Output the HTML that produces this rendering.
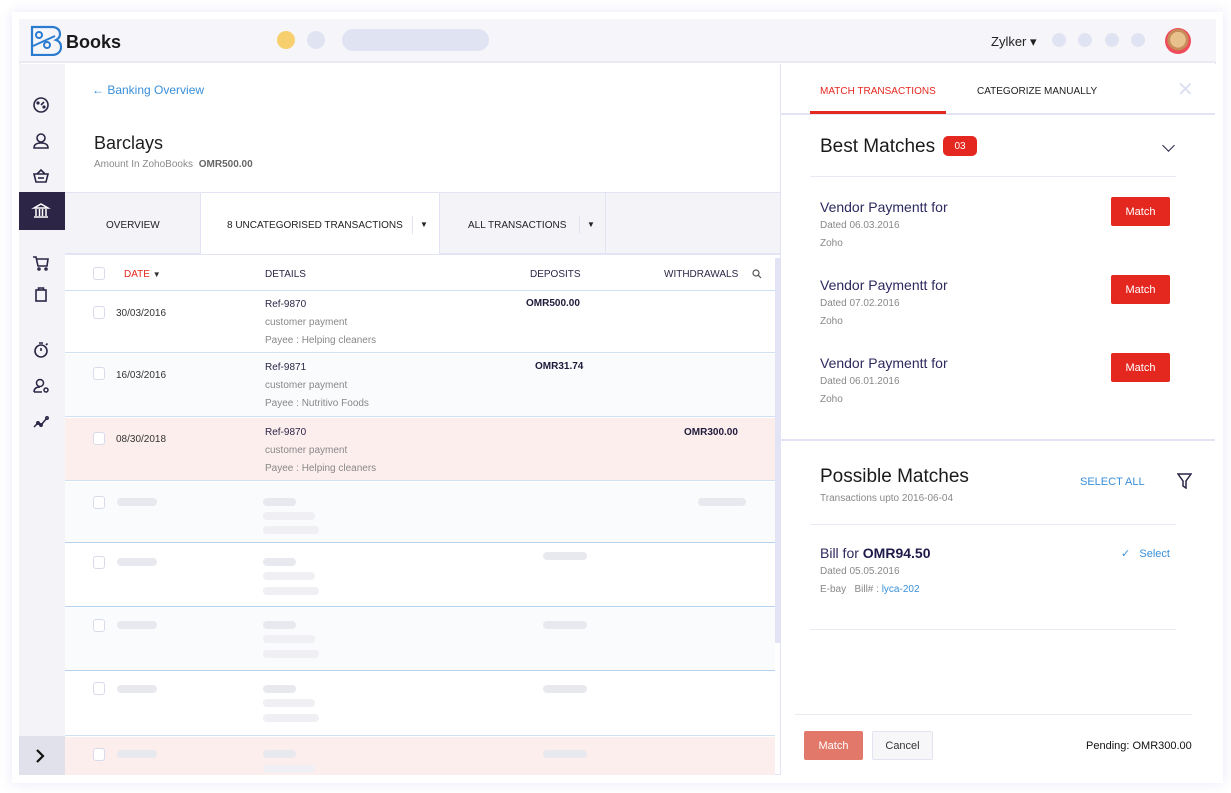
<!DOCTYPE html>
<html><head><meta charset="utf-8"><style>
*{box-sizing:border-box;margin:0;padding:0}
body{width:1231px;height:793px;background:#fff;font-family:"Liberation Sans",sans-serif;position:relative;overflow:hidden;color:#222}
.a{position:absolute}
.t{position:absolute;white-space:nowrap;margin-top:1px}
.sk{position:absolute;height:8px;border-radius:4px;background:#e8e8ef}
.cb{position:absolute;width:12px;height:13px;border:1.5px solid #d8dbea;border-radius:3px;background:#fff}
.btn{position:absolute;background:#e4281f;color:#fff;font-size:11px;text-align:center;border-radius:2px;width:59px;height:29px;line-height:30px}
.ic{position:absolute;left:31px}
</style></head><body>
<div class="a" style="left:12px;top:12px;width:1211px;height:771px;box-shadow:0 0 12px rgba(120,130,220,.18)"></div>
<div class="a" style="left:19px;top:19px;width:1197px;height:756px;background:#fff;border:1px solid #e2e4f5"></div>
<!-- header -->
<div class="a" style="left:19px;top:19px;width:1197px;height:44px;background:#f6f6fa;border-bottom:2px solid #eaeaf5"></div>
<svg class="a" style="left:29px;top:25px" width="33" height="31" viewBox="0 0 33 31"><path d="M3 2h20c5 0 8 3 8 7 0 3-2 5-4 6 3 1 5 3 5 7 0 5-4 8-9 8H3z" fill="none" stroke="#2b7bd1" stroke-width="2.2"/><circle cx="10" cy="10" r="3" fill="none" stroke="#2b7bd1" stroke-width="2"/><circle cx="18" cy="20" r="3" fill="none" stroke="#2b7bd1" stroke-width="2"/><path d="M4 21L26 11" stroke="#2b7bd1" stroke-width="2"/></svg>
<div class="t" style="left:66px;top:31px;font-size:18px;font-weight:bold;color:#1a1a1a">Books</div>
<div class="a" style="left:277px;top:31px;width:18px;height:18px;border-radius:50%;background:#f8cf6e"></div>
<div class="a" style="left:307px;top:31px;width:18px;height:18px;border-radius:50%;background:#e0e3f1"></div>
<div class="a" style="left:342px;top:29px;width:147px;height:22px;border-radius:11px;background:#e0e3f1"></div>
<div class="t" style="left:991px;top:33px;font-size:13px;color:#222">Zylker ▾</div>
<div class="a" style="left:1052px;top:33px;width:14px;height:14px;border-radius:50%;background:#e0e3f1"></div>
<div class="a" style="left:1078px;top:33px;width:14px;height:14px;border-radius:50%;background:#e0e3f1"></div>
<div class="a" style="left:1105px;top:33px;width:14px;height:14px;border-radius:50%;background:#e0e3f1"></div>
<div class="a" style="left:1131px;top:33px;width:14px;height:14px;border-radius:50%;background:#e0e3f1"></div>
<div class="a" style="left:1165px;top:28px;width:26px;height:26px;border-radius:50%;background:radial-gradient(circle at 50% 45%,#e8c08c 0 40%,#c98a5a 41% 55%,#ef4b5a 56%)"></div>
<!-- sidebar -->
<div class="a" style="left:19px;top:64px;width:46px;height:711px;background:#f4f4f8"></div>
<div class="a" style="left:19px;top:192px;width:46px;height:38px;background:#2c2546"></div>
<svg class="ic" style="top:95px" width="20" height="20" viewBox="0 0 20 20" fill="none" stroke="#2c2546" stroke-width="1.6"><circle cx="10" cy="10" r="7"/><path d="M10 10l3-3"/><circle cx="7" cy="8" r=".8" fill="#2c2546"/><circle cx="13" cy="12" r=".8" fill="#2c2546"/></svg>
<svg class="ic" style="top:131px" width="20" height="20" viewBox="0 0 20 20" fill="none" stroke="#2c2546" stroke-width="1.6"><circle cx="10" cy="7" r="4"/><path d="M3 17c0-4 3-5 7-5s7 1 7 5z"/></svg>
<svg class="ic" style="top:166px" width="20" height="20" viewBox="0 0 20 20" fill="none" stroke="#2c2546" stroke-width="1.6"><path d="M3 8h14l-2 8H5z"/><path d="M6 8l4-4 4 4"/><path d="M7 12h6"/></svg>
<svg class="ic" style="top:201px" width="20" height="20" viewBox="0 0 20 20" fill="none" stroke="#fff" stroke-width="1.5"><path d="M3 7l7-4 7 4z"/><path d="M5 8v7M8.5 8v7M11.5 8v7M15 8v7M3 16h14"/></svg>
<svg class="ic" style="top:253px" width="20" height="20" viewBox="0 0 20 20" fill="none" stroke="#2c2546" stroke-width="1.6"><path d="M2 4h3l2 9h9l1-7H6"/><circle cx="8" cy="16" r="1"/><circle cx="15" cy="16" r="1"/></svg>
<svg class="ic" style="top:284px" width="20" height="20" viewBox="0 0 20 20" fill="none" stroke="#2c2546" stroke-width="1.6"><rect x="5" y="6" width="10" height="11"/><path d="M7.5 6V4h5v2"/></svg>
<svg class="ic" style="top:340px" width="20" height="20" viewBox="0 0 20 20" fill="none" stroke="#2c2546" stroke-width="1.6"><circle cx="10" cy="11" r="6"/><path d="M8 3h4M10 11V8M15 5l1.5-1.5"/></svg>
<svg class="ic" style="top:376px" width="20" height="20" viewBox="0 0 20 20" fill="none" stroke="#2c2546" stroke-width="1.5"><circle cx="9" cy="7" r="3.5"/><path d="M3 16c0-4 3-5 6-5M3 16h8"/><circle cx="15" cy="14" r="2"/></svg>
<svg class="ic" style="top:412px" width="20" height="20" viewBox="0 0 20 20" fill="none" stroke="#2c2546" stroke-width="1.5"><path d="M3 15l4-4 3 2 6-7"/><circle cx="7" cy="11" r="1.2"/><circle cx="10" cy="13" r="1.2"/><circle cx="16" cy="6" r="1.2"/></svg>
<div class="a" style="left:19px;top:736px;width:46px;height:39px;background:#e0e1ea"></div>
<svg class="a" style="left:35px;top:749px" width="10" height="14" viewBox="0 0 10 14" fill="none" stroke="#111" stroke-width="2.2"><path d="M2 1l6 6-6 6"/></svg>
<!-- main -->
<div class="t" style="left:92px;top:82px;font-size:12px;color:#3a8fd8">← Banking Overview</div>
<div class="t" style="left:94px;top:132px;font-size:18px;color:#1e1e1e">Barclays</div>
<div class="t" style="left:94px;top:158px;font-size:10px;color:#8a8a8a">Amount In ZohoBooks <b style="color:#666;margin-left:3px">OMR500.00</b></div>
<div class="a" style="left:65px;top:192px;width:715px;height:63px;background:#f4f4f8;border-top:1px solid #e2e4f5;border-bottom:2px solid #e2e4f5"></div>
<div class="a" style="left:200px;top:193px;width:240px;height:61px;background:#fff;border-left:1px solid #e2e4f5;border-right:1px solid #e2e4f5"></div>
<div class="a" style="left:605px;top:193px;width:1px;height:61px;background:#e2e4f5"></div>
<div class="t" style="left:106px;top:219px;font-size:10px;color:#222">OVERVIEW</div>
<div class="t" style="left:227px;top:219px;font-size:10px;color:#222">8 UNCATEGORISED TRANSACTIONS</div>
<div class="a" style="left:412px;top:216px;width:1px;height:18px;background:#e2e4f5"></div>
<div class="t" style="left:420px;top:219px;font-size:8px;color:#222">▼</div>
<div class="t" style="left:468px;top:219px;font-size:10px;color:#222">ALL TRANSACTIONS</div>
<div class="a" style="left:579px;top:216px;width:1px;height:18px;background:#e2e4f5"></div>
<div class="t" style="left:587px;top:219px;font-size:8px;color:#222">▼</div>
<!-- table -->
<div class="a" style="left:65px;top:258px;width:710px;height:33px;border-bottom:1px solid #cfe0f0"></div>
<div class="cb" style="left:93px;top:267px"></div>
<div class="t" style="left:124px;top:268px;font-size:10px;color:#e4281f">DATE <span style="color:#333;font-size:8px">▼</span></div>
<div class="t" style="left:265px;top:268px;font-size:10px;color:#2c2546">DETAILS</div>
<div class="t" style="left:530px;top:268px;font-size:10px;color:#2c2546">DEPOSITS</div>
<div class="t" style="left:664px;top:268px;font-size:10px;color:#2c2546">WITHDRAWALS</div>
<svg class="a" style="left:752px;top:269px" width="10" height="10" viewBox="0 0 10 10" fill="none" stroke="#555" stroke-width="1.2"><circle cx="4" cy="4" r="3"/><path d="M6.3 6.3L9 9"/></svg>
<div class="a" style="left:65px;top:291px;width:710px;height:62px;background:#fff;border-bottom:1px solid #cfe0f0"></div>
<div class="a" style="left:65px;top:354px;width:710px;height:63px;background:#fafbfd;border-bottom:1px solid #cfe0f0"></div>
<div class="a" style="left:65px;top:418px;width:710px;height:63px;background:#fdeeee;border-bottom:1px solid #cfe0f0"></div>
<div class="a" style="left:65px;top:482px;width:710px;height:61px;background:#fafbfd;border-bottom:1px solid #b5d3ec"></div>
<div class="a" style="left:65px;top:544px;width:710px;height:63px;background:#fff;border-bottom:1px solid #b5d3ec"></div>
<div class="a" style="left:65px;top:608px;width:710px;height:63px;background:#fafbfd;border-bottom:1px solid #b5d3ec"></div>
<div class="a" style="left:65px;top:672px;width:710px;height:64px;background:#fff;border-bottom:1px solid #cfe0f0"></div>
<div class="a" style="left:65px;top:737px;width:710px;height:38px;background:#fdeeee"></div>
<div class="a" style="left:775px;top:258px;width:5px;height:385px;background:#e2e4f5"></div>
<!-- data rows -->
<div class="cb" style="left:93px;top:306px"></div><div class="t" style="left:116px;top:307px;font-size:10px;color:#333">30/03/2016</div>
<div class="t" style="left:265px;top:298px;font-size:10px;color:#2c2546">Ref-9870</div>
<div class="t" style="left:265px;top:316px;font-size:10px;color:#888">customer payment</div>
<div class="t" style="left:265px;top:334px;font-size:10px;color:#888">Payee : Helping cleaners</div>
<div class="t" style="left:526px;top:297px;font-size:10px;font-weight:bold;color:#1e1a3a">OMR500.00</div>
<div class="cb" style="left:93px;top:367px"></div><div class="t" style="left:116px;top:369px;font-size:10px;color:#333">16/03/2016</div>
<div class="t" style="left:265px;top:361px;font-size:10px;color:#2c2546">Ref-9871</div>
<div class="t" style="left:265px;top:379px;font-size:10px;color:#888">customer payment</div>
<div class="t" style="left:265px;top:397px;font-size:10px;color:#888">Payee : Nutritivo Foods</div>
<div class="t" style="left:535px;top:360px;font-size:10px;font-weight:bold;color:#1e1a3a">OMR31.74</div>
<div class="cb" style="left:93px;top:432px"></div><div class="t" style="left:116px;top:433px;font-size:10px;color:#333">08/30/2018</div>
<div class="t" style="left:265px;top:426px;font-size:10px;color:#2c2546">Ref-9870</div>
<div class="t" style="left:265px;top:444px;font-size:10px;color:#888">customer payment</div>
<div class="t" style="left:265px;top:462px;font-size:10px;color:#888">Payee : Helping cleaners</div>
<div class="t" style="left:684px;top:426px;font-size:10px;font-weight:bold;color:#1e1a3a">OMR300.00</div>
<!-- skeleton rows -->
<div class="cb" style="left:93px;top:496px"></div><div class="sk" style="left:117px;top:498px;width:40px"></div>
<div class="sk" style="left:263px;top:498px;width:33px"></div><div class="sk" style="left:263px;top:512px;width:52px;background:#efeff4"></div><div class="sk" style="left:263px;top:526px;width:56px;background:#efeff4"></div><div class="sk" style="left:698px;top:498px;width:48px"></div>
<div class="cb" style="left:93px;top:556px"></div><div class="sk" style="left:117px;top:558px;width:40px"></div>
<div class="sk" style="left:263px;top:558px;width:33px"></div><div class="sk" style="left:263px;top:572px;width:52px;background:#efeff4"></div><div class="sk" style="left:263px;top:587px;width:56px;background:#efeff4"></div><div class="sk" style="left:543px;top:552px;width:44px"></div>
<div class="cb" style="left:93px;top:619px"></div><div class="sk" style="left:117px;top:621px;width:40px"></div>
<div class="sk" style="left:263px;top:621px;width:33px"></div><div class="sk" style="left:263px;top:635px;width:52px;background:#efeff4"></div><div class="sk" style="left:263px;top:650px;width:56px;background:#efeff4"></div><div class="sk" style="left:543px;top:621px;width:44px"></div>
<div class="cb" style="left:93px;top:682px"></div><div class="sk" style="left:117px;top:685px;width:40px"></div>
<div class="sk" style="left:263px;top:685px;width:33px"></div><div class="sk" style="left:263px;top:699px;width:52px;background:#efeff4"></div><div class="sk" style="left:263px;top:714px;width:56px;background:#efeff4"></div><div class="sk" style="left:543px;top:685px;width:44px"></div>
<div class="cb" style="left:93px;top:748px"></div><div class="sk" style="left:117px;top:750px;width:40px"></div>
<div class="sk" style="left:263px;top:750px;width:33px"></div><div class="sk" style="left:263px;top:765px;width:52px;background:#efeff4"></div><div class="sk" style="left:543px;top:750px;width:44px"></div>
<!-- right panel -->
<div class="a" style="left:780px;top:64px;width:436px;height:711px;background:#fff;border-left:1px solid #e2e4f5"></div>
<div class="a" style="left:781px;top:113px;width:434px;height:2px;background:#e2e4f5"></div>
<div class="a" style="left:810px;top:111px;width:136px;height:3px;background:#e4281f"></div>
<div class="t" style="left:820px;top:85px;font-size:10px;color:#e4281f">MATCH TRANSACTIONS</div>
<div class="t" style="left:977px;top:85px;font-size:10px;color:#222">CATEGORIZE MANUALLY</div>
<div class="t" style="left:1177px;top:76px;font-size:20px;color:#dde0f0">✕</div>
<div class="t" style="left:820px;top:135px;font-size:19px;color:#1a1a1a">Best Matches</div>
<div class="a" style="left:943px;top:136px;width:34px;height:20px;border-radius:5px;background:#e4281f;color:#fff;font-size:10px;text-align:center;line-height:21px">03</div>
<div class="a" style="left:1164px;top:141px;width:9px;height:9px;border-right:1.5px solid #2c2546;border-bottom:1.5px solid #2c2546;transform:rotate(45deg)"></div>
<div class="a" style="left:810px;top:176px;width:366px;height:1px;background:#e8eaf4"></div>
<div class="t" style="left:820px;top:198px;font-size:14px;color:#2c2a5e">Vendor Paymentt for</div>
<div class="t" style="left:820px;top:219px;font-size:10px;color:#888">Dated 06.03.2016</div>
<div class="t" style="left:820px;top:237px;font-size:10px;color:#888">Zoho</div>
<div class="btn" style="left:1111px;top:197px">Match</div>
<div class="t" style="left:820px;top:276px;font-size:14px;color:#2c2a5e">Vendor Paymentt for</div>
<div class="t" style="left:820px;top:297px;font-size:10px;color:#888">Dated 07.02.2016</div>
<div class="t" style="left:820px;top:315px;font-size:10px;color:#888">Zoho</div>
<div class="btn" style="left:1111px;top:275px">Match</div>
<div class="t" style="left:820px;top:354px;font-size:14px;color:#2c2a5e">Vendor Paymentt for</div>
<div class="t" style="left:820px;top:375px;font-size:10px;color:#888">Dated 06.01.2016</div>
<div class="t" style="left:820px;top:393px;font-size:10px;color:#888">Zoho</div>
<div class="btn" style="left:1111px;top:353px">Match</div>
<div class="a" style="left:781px;top:439px;width:434px;height:2px;background:#e2e4f5"></div>
<div class="t" style="left:820px;top:465px;font-size:19px;color:#1a1a1a">Possible Matches</div>
<div class="t" style="left:820px;top:492px;font-size:10px;color:#888">Transactions upto 2016-06-04</div>
<div class="t" style="left:1080px;top:475px;font-size:11px;color:#3a8fd8">SELECT ALL</div>
<svg class="a" style="left:1177px;top:473px" width="15" height="16" viewBox="0 0 15 16" fill="none" stroke="#2c2546" stroke-width="1.5"><path d="M1 1h13L9 8v7l-3-2V8z"/></svg>
<div class="a" style="left:810px;top:524px;width:366px;height:1px;background:#e8eaf4"></div>
<div class="t" style="left:820px;top:544px;font-size:14px;color:#2c2a5e">Bill for <b style="color:#1e1a4a">OMR94.50</b></div>
<div class="t" style="left:820px;top:565px;font-size:10px;color:#888">Dated 05.05.2016</div>
<div class="t" style="left:820px;top:583px;font-size:10px;color:#888">E-bay &nbsp; Bill# : <span style="color:#3a8fd8">lyca-202</span></div>
<div class="t" style="left:1121px;top:546px;font-size:11px;color:#3a8fd8">✓ &nbsp; Select</div>
<div class="a" style="left:810px;top:629px;width:366px;height:1px;background:#e8eaf4"></div>
<div class="a" style="left:795px;top:714px;width:397px;height:1px;background:#e8eaf4"></div>
<div class="a" style="left:804px;top:731px;width:59px;height:29px;background:#e2786a;color:#fff;font-size:11px;text-align:center;line-height:30px;border-radius:2px">Match</div>
<div class="a" style="left:872px;top:731px;width:61px;height:29px;background:#f7f7fa;border:1px solid #e2e4f0;color:#333;font-size:11px;text-align:center;line-height:28px;border-radius:2px">Cancel</div>
<div class="t" style="left:1086px;top:739px;font-size:11px;color:#111">Pending: OMR300.00</div>
</body></html>
